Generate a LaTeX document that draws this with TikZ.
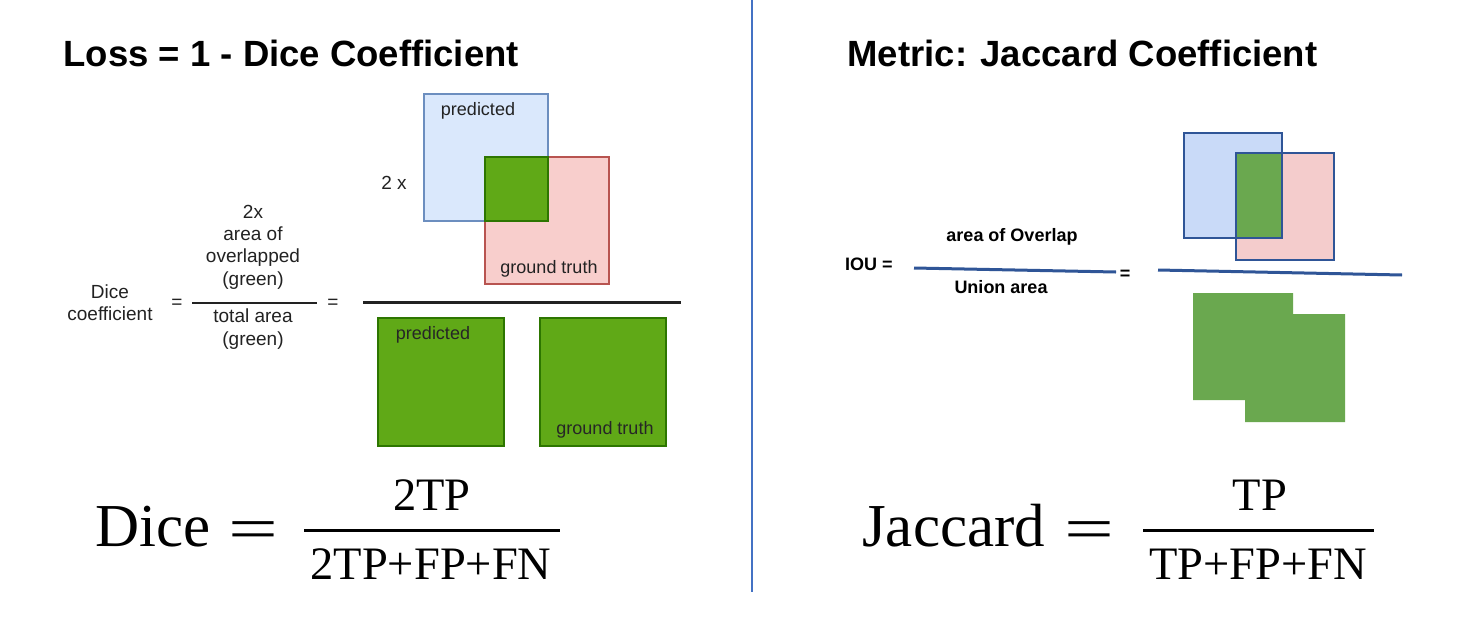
\documentclass[tikz,border=0pt]{standalone}
\usepackage{graphicx}
\usepackage{fontspec}
\setmainfont{Liberation Serif}
\newfontfamily\arial{Liberation Sans}
\definecolor{dblue}{HTML}{DAE8FC}
\definecolor{dblueb}{HTML}{6C8EBF}
\definecolor{dpink}{HTML}{F8CECC}
\definecolor{dpinkb}{HTML}{B85450}
\definecolor{dgreen}{HTML}{60A917}
\definecolor{dgreenb}{HTML}{2D7600}
\definecolor{pblue}{HTML}{C9DAF8}
\definecolor{ppink}{HTML}{F4CCCC}
\definecolor{pgreen}{HTML}{6AA84F}
\definecolor{navy}{HTML}{2F5597}
\definecolor{divider}{HTML}{4472C4}
\definecolor{ink}{HTML}{222222}
\begin{document}
\begin{tikzpicture}[x=1pt,y=-1pt,
  title/.style={anchor=base west,font=\arial\bfseries\fontsize{36.5}{40}\selectfont},
  lbl/.style={inner sep=0pt,text=ink,font=\arial\fontsize{19}{22.3}\selectfont,align=center},
  boxlbl/.style={inner sep=0pt,text=ink,font=\arial\fontsize{18}{21}\selectfont},
  iou/.style={inner sep=0pt,font=\arial\bfseries\fontsize{18}{21}\selectfont,align=center},
  sq/.style={rectangle,anchor=north west,inner sep=0pt,line width=#1},
  sq/.default=2.4pt,
  frac/.style={line width=3pt},
  big/.style={inner sep=0pt,font=\fontsize{61}{70}\selectfont},
  bigeq/.style={inner sep=0pt,anchor=base,font=\fontsize{61}{70}\selectfont},
  part/.style={inner sep=0pt,anchor=base,font=\fontsize{46.5}{52}\selectfont}]
\useasboundingbox[fill=white] (0,0) rectangle (1466,616);

% divider
\coordinate (dtop) at (752,0);
\coordinate (dbot) at (752,592);
\draw[divider,line width=1.5pt] (dtop) -- (dbot);

% titles
\node[title] (t1) at (60,66) {Loss = 1 - Dice Coefficient};
\node[title] (t2) at (844,66) {Metric: Jaccard Coefficient};

% ---------- left: Dice ----------
\node[sq,fill=dblue,draw=dblueb,minimum width=124pt,minimum height=127pt] (pred) at (423,93) {};
\node[sq,fill=dpink,draw=dpinkb,minimum width=124pt,minimum height=127pt] (gt) at (484,156) {};
\node[sq,fill=dgreen,draw=dgreenb,minimum width=63pt,minimum height=64pt] (ov) at (484,156) {};
\node[boxlbl] (predl) at (478,111) {predicted};
\node[boxlbl] (gtl) at (549,269) {ground truth};
\node[lbl] (twox) at (394,183) {2 x};

\coordinate (bl) at (363,302);
\coordinate (br) at (681,302);
\draw[line width=3pt,ink] (bl) -- (br);

\node[sq,fill=dgreen,draw=dgreenb,minimum width=126pt,minimum height=128pt] (p2) at (377,317) {};
\node[sq,fill=dgreen,draw=dgreenb,minimum width=126pt,minimum height=128pt] (g2) at (539,317) {};
\node[boxlbl,text=black!85] (p2l) at (433,335) {predicted};
\node[boxlbl,text=black!85] (g2l) at (605,430) {ground truth};

\node[lbl] (dc) at (110,303) {Dice\\coefficient};
\node[lbl] (eq1) at (177,304) {=};
\node[lbl] (num) at (253,247) {2x\\area of\\overlapped\\(green)};
\coordinate (sl) at (192,303);
\coordinate (sr) at (317,303);
\draw[line width=2.5pt,ink] (sl) -- (sr);
\node[lbl] (den) at (253,329) {total area\\(green)};
\node[lbl] (eq2) at (333,304) {=};

% Dice formula
\node[big,anchor=base west] (dice) at (95,546) {Dice};
\node[bigeq] (deq) at (253,549) {\scalebox{1.45}[1]{=}};
\node[part] (dn) at (432,510) {2TP};
\coordinate (dfl) at (304,530);
\coordinate (dfr) at (560,530);
\draw[frac] (dfl) -- (dfr);
\node[part] (dd) at (431,579) {2TP+FP+FN};

% ---------- right: Jaccard ----------
\node[iou,anchor=west] (iouL) at (845,264) {IOU =};
\node[iou] (aov) at (1012,237) {area of Overlap};
\coordinate (il) at (914,268);
\coordinate (ir) at (1116,272);
\draw[navy,line width=3pt] (il) -- (ir);
\node[iou] (ua) at (1001,287) {Union area};
\node[iou] (ieq) at (1125,275) {=};
\coordinate (jl) at (1158,270);
\coordinate (jr) at (1402,275);
\draw[navy,line width=3pt] (jl) -- (jr);

\node[sq=1.8pt,fill=pblue,minimum width=98pt,minimum height=105pt] (jp) at (1183,132) {};
\node[sq=1.8pt,fill=ppink,minimum width=98pt,minimum height=107pt] (jg) at (1235,152) {};
\node[sq=0pt,fill=pgreen,minimum width=46pt,minimum height=85pt] (jo) at (1235,152) {};
\node[sq=1.8pt,draw=navy,minimum width=98pt,minimum height=105pt] (jpb) at (1183,132) {};
\node[sq=1.8pt,draw=navy,minimum width=98pt,minimum height=107pt] (jgb) at (1235,152) {};

\fill[pgreen] (1193,293) -- (1293,293) -- (1293,314) -- (1345,314) -- (1345,422)
  -- (1245,422) -- (1245,400) -- (1193,400) -- cycle;

% Jaccard formula
\node[big,anchor=base west] (jac) at (862,546) {Jaccard};
\node[bigeq] (jeq) at (1089,549) {\scalebox{1.45}[1]{=}};
\node[part] (jn) at (1260,510) {TP};
\coordinate (jfl) at (1143,530);
\coordinate (jfr) at (1374,530);
\draw[frac] (jfl) -- (jfr);
\node[part] (jd) at (1258,579) {TP+FP+FN};
\end{tikzpicture}
\end{document}
